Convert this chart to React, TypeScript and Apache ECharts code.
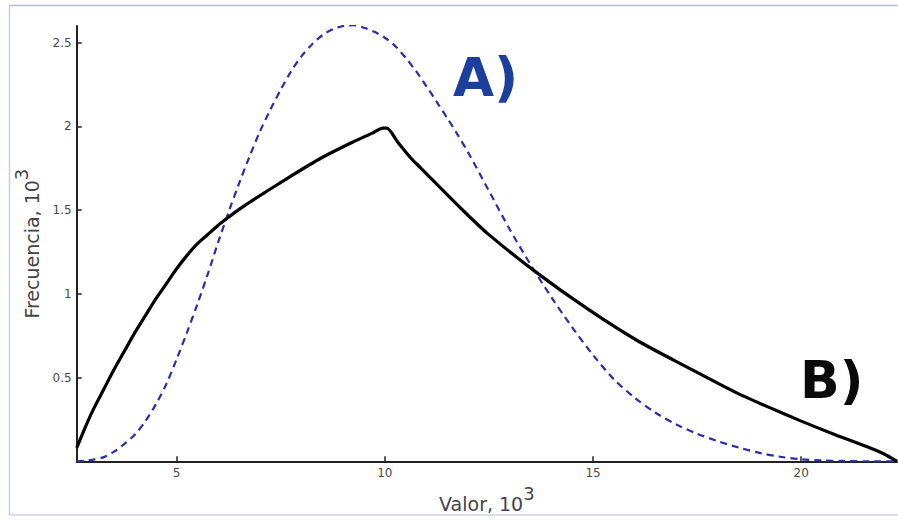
import React, { useEffect, useRef } from 'react';
import * as echarts from 'echarts';

// Curve A (dashed) — x in 10^3, frequency in 10^3
const xA = [2.6, 2.8, 3.0, 3.25, 3.5, 3.75, 4.0, 4.25, 4.5, 4.75, 5.0, 5.25, 5.5, 5.75, 6.0, 6.25, 6.5, 6.75, 7.0, 7.25, 7.5, 7.75, 8.0, 8.25, 8.5, 8.75, 9.0, 9.25, 9.5, 9.75, 10.0, 10.25, 10.5, 10.75, 11.0, 11.25, 11.5, 11.75, 12.0, 12.5, 13.0, 13.5, 14.0, 14.5, 15.0, 15.5, 16.0, 16.5, 17.0, 17.5, 18.0, 18.5, 19.0, 19.5, 20.0, 20.5, 21.0, 21.6, 22.3];
const yA = [0.0, 0.003, 0.01, 0.025, 0.058, 0.105, 0.16, 0.24, 0.34, 0.46, 0.61, 0.77, 0.94, 1.12, 1.31, 1.49, 1.66, 1.82, 1.97, 2.1, 2.22, 2.33, 2.42, 2.49, 2.545, 2.58, 2.6, 2.605, 2.59, 2.565, 2.53, 2.48, 2.41, 2.33, 2.24, 2.145, 2.05, 1.95, 1.845, 1.615, 1.385, 1.175, 0.98, 0.8, 0.635, 0.49, 0.38, 0.29, 0.22, 0.165, 0.12, 0.082, 0.05, 0.027, 0.012, 0.005, 0.002, 0.0, 0.0];

// Curve B (solid)
const xB = [2.6, 2.8, 3.0, 3.25, 3.5, 3.75, 4.0, 4.25, 4.5, 4.75, 5.0, 5.25, 5.5, 5.75, 6.0, 6.22, 6.5, 6.86, 7.66, 8.46, 9.26, 9.7, 9.95, 10.05, 10.3, 10.63, 10.87, 11.83, 12.47, 13.63, 14.87, 16.07, 17.28, 18.4, 19.2, 20.0, 20.8, 21.6, 22.0, 22.3];
const yB = [0.08, 0.2, 0.31, 0.43, 0.55, 0.66, 0.77, 0.87, 0.97, 1.06, 1.15, 1.23, 1.3, 1.355, 1.41, 1.453, 1.505, 1.565, 1.69, 1.81, 1.91, 1.96, 1.99, 1.99, 1.91, 1.81, 1.75, 1.51, 1.36, 1.13, 0.91, 0.72, 0.56, 0.415, 0.325, 0.24, 0.16, 0.085, 0.042, 0.0];

const xTicks = [5, 10, 15, 20];
const yTicks = [0.5, 1, 1.5, 2, 2.5];

const FONT = 'DejaVu Sans';

export default function App() {
  const ref = useRef<HTMLDivElement>(null);
  useEffect(() => {
    if (!ref.current) return;
    const chart = echarts.init(ref.current, null, { renderer: 'svg' });
    const axisCommon = {
      axisLine: { show: true, onZero: false, lineStyle: { color: '#222', width: 2 } },
      axisTick: { show: true, inside: true, length: 5, lineStyle: { color: '#222', width: 1.5 } },
      splitLine: { show: false },
    };
    const titleRich = {
      a: { fontSize: 19, color: '#444', fontFamily: FONT, verticalAlign: 'bottom' },
      s: { fontSize: 18, color: '#444', fontFamily: FONT, verticalAlign: 'bottom', padding: [0, 0, 11, 0] },
    };
    chart.setOption({
      animation: false,
      backgroundColor: '#ffffff',
      grid: { left: 76.7, right: 1, top: 26, bottom: 58.7, containLabel: false },
      xAxis: {
        type: 'value',
        min: 2.6,
        max: 22.3,
        ...axisCommon,
        axisTick: { ...axisCommon.axisTick, customValues: xTicks },
        axisLabel: { customValues: xTicks, color: '#4a4a4a', fontSize: 12, fontFamily: FONT, margin: 6 },
        name: '{a|Valor, 10}{s|3}',
        nameLocation: 'middle',
        nameGap: 22,
        nameTextStyle: { rich: titleRich },
      },
      yAxis: {
        type: 'value',
        min: 0,
        max: 2.6,
        ...axisCommon,
        axisTick: { ...axisCommon.axisTick, customValues: yTicks },
        axisLabel: { customValues: yTicks, color: '#4a4a4a', fontSize: 12, fontFamily: FONT, margin: 5 },
        name: '{a|Frecuencia, 10}{s|3}',
        nameLocation: 'middle',
        nameGap: 30,
        nameRotate: 90,
        nameTextStyle: { rich: titleRich },
      },
      series: [
        {
          name: 'A',
          type: 'line',
          data: xA.map((x, i) => [x, yA[i]]),
          showSymbol: false,
          smooth: 0.3,
          lineStyle: { color: '#2c2caa', width: 2.2, type: [7, 5] },
          z: 2,
        },
        {
          name: 'B',
          type: 'line',
          data: xB.map((x, i) => [x, yB[i]]),
          showSymbol: false,
          smooth: 0.25,
          lineStyle: { color: '#000000', width: 3.2 },
          z: 3,
        },
      ],
      graphic: [
        { type: 'line', shape: { x1: 9.5, y1: 5.5, x2: 898, y2: 5.5 }, style: { stroke: '#aebde6', lineWidth: 1.5 } },
        { type: 'line', shape: { x1: 9.5, y1: 5.5, x2: 9.5, y2: 515 }, style: { stroke: '#c4cdee', lineWidth: 1.5 } },
        { type: 'line', shape: { x1: 9.5, y1: 515, x2: 898, y2: 515 }, style: { stroke: '#c8d4f0', lineWidth: 1.5 } },
        {
          type: 'text', left: 453, top: 51,
          style: { text: 'A)', fontSize: 53, fontWeight: 'bold', fontFamily: FONT, fill: '#1c3f9e' },
        },
        {
          type: 'text', left: 800, top: 354,
          style: { text: 'B)', fontSize: 52, fontWeight: 'bold', fontFamily: FONT, fill: '#0a0a0a' },
        },
      ],
    });
    return () => chart.dispose();
  }, []);
  return <div ref={ref} style={{ position: 'absolute', left: 0, top: 0, width: 898, height: 520 }} />;
}
